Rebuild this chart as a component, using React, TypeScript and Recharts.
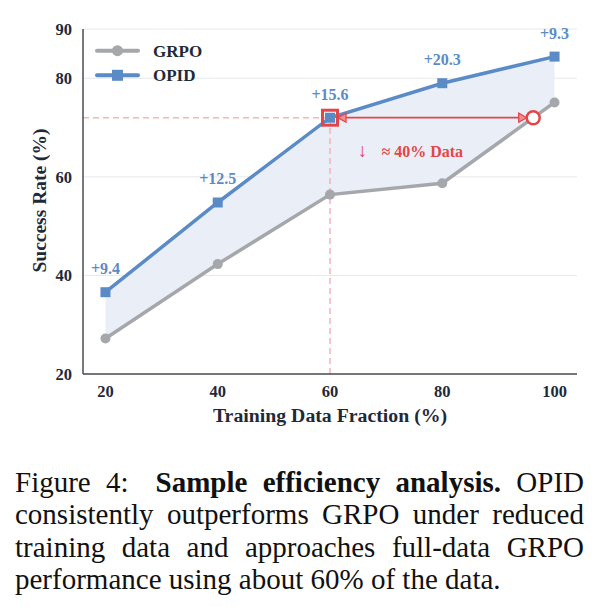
import {
  ComposedChart,
  Area,
  Line,
  XAxis,
  YAxis,
  CartesianGrid,
  LabelList,
  ReferenceLine,
  ReferenceDot,
} from "recharts";

// --- Data ---

const DATA_FRACTION = [20, 40, 60, 80, 100];
const GRPO_RATE = [27.2, 42.3, 56.4, 58.7, 75.1];
const OPID_RATE = [36.6, 54.8, 72.0, 79.0, 84.4];
const OPID_GAIN = [9.4, 12.5, 15.6, 20.3, 9.3];

const X_TICKS = [20, 40, 60, 80, 100];
const Y_TICKS = [20, 40, 60, 80, 90];

// OPID at 60% matches GRPO at ~96% of the data
const MATCH_X = 60;
const MATCH_RATE = 72.0;
const GRPO_MATCH_X = 96.2;
const NOTE_AT = { x: 74.6, y: 64.1 };

const CAPTION_LINES = [
  "consistently outperforms GRPO under reduced",
  "training data and approaches full-data GRPO",
  "performance using about 60% of the data.",
];

const GRAY = "#a5a7ab";
const BLUE = "#5b8bc6";
const RED = "#e2464a";
const PINK = "#f6b4b4";
const INK = "#1f2a38";
const FONT = '"Liberation Serif", "Times New Roman", serif';

const chartData = DATA_FRACTION.map((x, i) => ({
  x,
  grpo: GRPO_RATE[i],
  opid: OPID_RATE[i],
  band: [GRPO_RATE[i], OPID_RATE[i]],
  gain: OPID_GAIN[i],
}));

// --- Small renderers ---

function GainLabel(props: any) {
  const { x, y, value } = props;
  return (
    <text
      x={x}
      y={y - 18}
      textAnchor="middle"
      fill={BLUE}
      fontSize={16}
      fontWeight="bold"
      fontFamily={FONT}
    >
      +{value}
    </text>
  );
}

function SquareDot(props: any) {
  const { cx, cy, index } = props;
  return <rect key={`sq-${index}`} x={cx - 5} y={cy - 5} width={10} height={10} fill={BLUE} />;
}

function LegendBox() {
  const rows = [
    { name: "GRPO", color: GRAY, square: false },
    { name: "OPID", color: BLUE, square: true },
  ];
  return (
    <svg width={130} height={52} style={{ position: "absolute", left: 95, top: 38 }}>
      {rows.map((r, i) => {
        const cy = 12.7 + i * 24.6;
        return (
          <g key={r.name}>
            <line x1={2} x2={43} y1={cy} y2={cy} stroke={r.color} strokeWidth={4} strokeLinecap="round" />
            {r.square ? (
              <rect x={17} y={cy - 5.5} width={11} height={11} fill={r.color} />
            ) : (
              <circle cx={22.5} cy={cy} r={5.5} fill={r.color} />
            )}
            <text x={58} y={cy + 6} fontSize={17} fontWeight="bold" fill={INK} fontFamily={FONT}>
              {r.name}
            </text>
          </g>
        );
      })}
    </svg>
  );
}

function DoubleArrow(props: any) {
  const { x1, y1, x2 } = props;
  const a = x1 + 8;
  const b = x2 - 6.5;
  return (
    <g>
      <line x1={a + 6} x2={b - 6} y1={y1} y2={y1} stroke={RED} strokeWidth={1.8} />
      <polygon
        points={`${a},${y1} ${a + 8},${y1 - 4.5} ${a + 8},${y1 + 4.5}`}
        fill="#f28d8f"
        stroke={RED}
        strokeWidth={1.3}
      />
      <polygon
        points={`${b},${y1} ${b - 8},${y1 - 4.5} ${b - 8},${y1 + 4.5}`}
        fill="#f28d8f"
        stroke={RED}
        strokeWidth={1.3}
      />
    </g>
  );
}

function HighlightBox(props: any) {
  const { cx, cy } = props;
  return <rect x={cx - 7.5} y={cy - 7.5} width={15} height={15} fill="none" stroke={RED} strokeWidth={3} />;
}

function DataNote(props: any) {
  const { cx, cy } = props;
  return (
    <g fontFamily={FONT} fontWeight="bold" fill={RED}>
      <text x={cx - 49.5} y={cy} textAnchor="middle" fontSize={19}>
        ↓
      </text>
      <text x={cx - 30.5} y={cy} textAnchor="start" fontSize={16}>
        ≈ 40% Data
      </text>
    </g>
  );
}

const lineStyle = {
  height: 32.3,
  lineHeight: "32.3px",
  whiteSpace: "nowrap" as const,
  textAlign: "justify" as const,
  textAlignLast: "justify" as const,
};

// --- Main ---

export default function App() {
  return (
    <div
      style={{
        position: "absolute",
        left: 0,
        top: 0,
        width: 601,
        height: 613,
        background: "#fff",
        fontFamily: FONT,
      }}
    >
      <div style={{ position: "absolute", left: 0, top: 0 }}>
        <ComposedChart
          width={601}
          height={430}
          data={chartData}
          margin={{ top: 29, right: 24, left: 0, bottom: 0 }}
          style={{ fontFamily: FONT }}
        >
          <CartesianGrid vertical={false} stroke="#e7e8eb" strokeWidth={1} />
          <XAxis
            type="number"
            dataKey="x"
            domain={[16, 104]}
            allowDataOverflow
            ticks={X_TICKS}
            interval={0}
            tickLine={false}
            tickSize={0}
            tickMargin={11}
            height={56}
            axisLine={{ stroke: "#4b4d52", strokeWidth: 1.5 }}
            tick={{ fill: INK, fontSize: 16.5, fontWeight: "bold", fontFamily: FONT }}
            label={{
              content: (p: any) => {
                const vb = p.viewBox;
                return (
                  <text
                    x={vb.x + vb.width / 2}
                    y={vb.y + 47.7}
                    textAnchor="middle"
                    fill={INK}
                    fontSize={19.8}
                    fontWeight="bold"
                    fontFamily={FONT}
                  >
                    Training Data Fraction (%)
                  </text>
                );
              },
            }}
          />
          <YAxis
            type="number"
            domain={[20, 90]}
            allowDataOverflow
            ticks={Y_TICKS}
            interval={0}
            width={83}
            tickLine={false}
            tickSize={0}
            tickMargin={11}
            axisLine={{ stroke: "#4b4d52", strokeWidth: 1.5 }}
            tick={{ fill: INK, fontSize: 16.5, fontWeight: "bold", fontFamily: FONT }}
            label={{
              content: (p: any) => {
                const vb = p.viewBox;
                const cx = vb.x + 39;
                const cy = vb.y + vb.height / 2 - 1;
                return (
                  <text
                    x={cx}
                    y={cy}
                    transform={`rotate(-90 ${cx} ${cy})`}
                    textAnchor="middle"
                    dominantBaseline="central"
                    fill={INK}
                    fontSize={19.5}
                    fontWeight="bold"
                    fontFamily={FONT}
                  >
                    Success Rate (%)
                  </text>
                );
              },
            }}
          />
          <ReferenceLine
            segment={[
              { x: 16, y: MATCH_RATE },
              { x: MATCH_X, y: MATCH_RATE },
            ]}
            stroke={PINK}
            strokeWidth={1.5}
            strokeDasharray="6 4"
          />
          <ReferenceLine
            segment={[
              { x: MATCH_X, y: 20 },
              { x: MATCH_X, y: MATCH_RATE },
            ]}
            stroke={PINK}
            strokeWidth={1.5}
            strokeDasharray="6 4"
          />
          <Area
            dataKey="band"
            stroke="none"
            fill="#eaeff7"
            fillOpacity={1}
            isAnimationActive={false}
            legendType="none"
            activeDot={false}
          />
          <Line
            dataKey="grpo"
            name="GRPO"
            stroke={GRAY}
            strokeWidth={3.5}
            dot={{ r: 5, fill: GRAY, strokeWidth: 0 }}
            activeDot={false}
            isAnimationActive={false}
          />
          <Line
            dataKey="opid"
            name="OPID"
            stroke={BLUE}
            strokeWidth={3.5}
            dot={<SquareDot />}
            activeDot={false}
            isAnimationActive={false}
          >
            <LabelList dataKey="gain" content={<GainLabel />} />
          </Line>
          <ReferenceLine
            segment={[
              { x: MATCH_X, y: MATCH_RATE },
              { x: GRPO_MATCH_X, y: MATCH_RATE },
            ]}
            shape={<DoubleArrow />}
          />
          <ReferenceDot x={MATCH_X} y={MATCH_RATE} r={7.5} shape={<HighlightBox />} />
          <ReferenceDot
            x={GRPO_MATCH_X}
            y={MATCH_RATE}
            r={6.5}
            fill="#fff"
            stroke={RED}
            strokeWidth={2.5}
          />
          <ReferenceDot x={NOTE_AT.x} y={NOTE_AT.y} r={1} shape={<DataNote />} />
        </ComposedChart>
      </div>
      <LegendBox />
      <div
        style={{
          position: "absolute",
          left: 15,
          top: 466,
          width: 569,
          fontFamily: FONT,
          fontSize: 29,
          color: "#111",
        }}
      >
        <div style={lineStyle}>
          Figure 4:<span style={{ display: "inline-block", width: 27 }} />
          <b>Sample efficiency analysis.</b> OPID
        </div>
        <div style={lineStyle}>{CAPTION_LINES[0]}</div>
        <div style={lineStyle}>{CAPTION_LINES[1]}</div>
        <div style={{ ...lineStyle, textAlign: "left", textAlignLast: "left" }}>{CAPTION_LINES[2]}</div>
      </div>
    </div>
  );
}
